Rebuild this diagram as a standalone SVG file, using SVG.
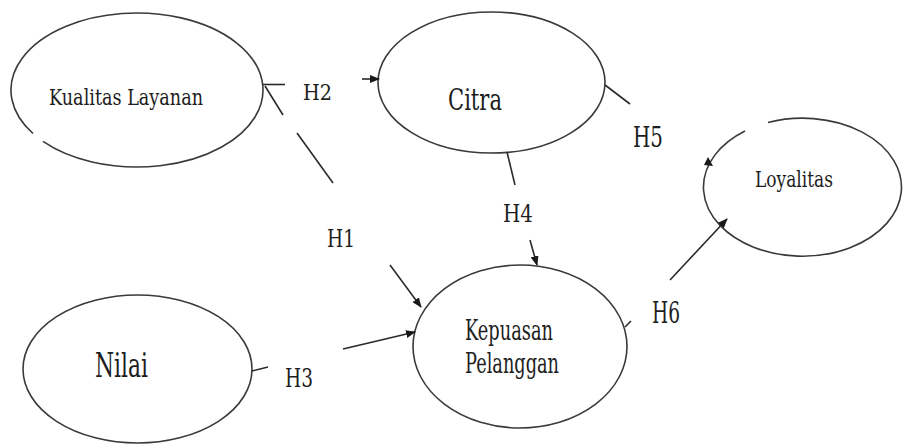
<svg xmlns="http://www.w3.org/2000/svg" width="909" height="445" viewBox="0 0 909 445">
  <defs>
    <marker id="arrow" markerUnits="userSpaceOnUse" markerWidth="10" markerHeight="8" refX="9" refY="4" orient="auto">
      <path d="M0,0 L10,4 L0,8 Z" fill="#1a1a1a"/>
    </marker>
    <style>
      .node { fill: none; stroke: #3a3a3a; stroke-width: 1.6; }
      .edge { fill: none; stroke: #2a2a2a; stroke-width: 1.6; }
      text { font-family: "DejaVu Serif", serif; fill: #1e1e1e; }
    </style>
  </defs>
  <rect width="909" height="445" fill="#ffffff"/>

  <!-- nodes -->
  <g id="kualitas-layanan">
    <path class="node" d="M33,133.5 A126,77 0 1 1 43,141.3"/>
    <text x="49" y="105" font-size="23" textLength="154" lengthAdjust="spacingAndGlyphs">Kualitas Layanan</text>
  </g>
  <g id="citra">
    <ellipse class="node" cx="491.5" cy="82.5" rx="113.5" ry="70.5"/>
    <text x="448" y="110" font-size="30" textLength="54" lengthAdjust="spacingAndGlyphs">Citra</text>
  </g>
  <g id="loyalitas">
    <path class="node" d="M768,122.5 A99,69 0 1 1 745,131"/>
    <text x="755" y="187" font-size="23" textLength="78" lengthAdjust="spacingAndGlyphs">Loyalitas</text>
  </g>
  <g id="nilai">
    <ellipse class="node" cx="137.5" cy="369" rx="114.5" ry="74"/>
    <text x="95" y="377" font-size="33" textLength="53" lengthAdjust="spacingAndGlyphs">Nilai</text>
  </g>
  <g id="kepuasan-pelanggan">
    <ellipse class="node" cx="520" cy="346.5" rx="107" ry="81.5"/>
    <text x="465" y="340" font-size="27" textLength="88" lengthAdjust="spacingAndGlyphs">Kepuasan</text>
    <text x="465" y="373" font-size="27" textLength="94" lengthAdjust="spacingAndGlyphs">Pelanggan</text>
  </g>

  <!-- connectors -->
  <g id="connectors">
    <!-- H2: Kualitas Layanan -> Citra -->
    <line class="edge" x1="263" y1="84.5" x2="285" y2="84.5"/>
    <line class="edge" x1="362" y1="79" x2="379" y2="79" marker-end="url(#arrow)"/>
    <!-- H1: Kualitas Layanan -> Kepuasan Pelanggan -->
    <line class="edge" x1="265" y1="86" x2="283" y2="115"/>
    <line class="edge" x1="297" y1="133" x2="333" y2="183"/>
    <line class="edge" x1="390" y1="265" x2="421" y2="307" marker-end="url(#arrow)"/>
    <!-- H3: Nilai -> Kepuasan Pelanggan -->
    <line class="edge" x1="252" y1="371" x2="268" y2="367"/>
    <line class="edge" x1="343" y1="349" x2="415" y2="332" marker-end="url(#arrow)"/>
    <!-- H4: Citra -> Kepuasan Pelanggan -->
    <line class="edge" x1="507" y1="152" x2="515" y2="185"/>
    <line class="edge" x1="530" y1="240" x2="537" y2="265" marker-end="url(#arrow)"/>
    <!-- H5: Citra -> Loyalitas -->
    <line class="edge" x1="605" y1="85" x2="630" y2="104"/>
    <polygon points="708,157 713,166 704,165" fill="#1a1a1a"/>
    <!-- H6: Kepuasan Pelanggan -> Loyalitas -->
    <line class="edge" x1="625" y1="327" x2="631" y2="321"/>
    <line class="edge" x1="670" y1="280" x2="727" y2="219" marker-end="url(#arrow)"/>

    <text x="303" y="100" font-size="23" textLength="29" lengthAdjust="spacingAndGlyphs">H2</text>
    <text x="327" y="247" font-size="24" textLength="28" lengthAdjust="spacingAndGlyphs">H1</text>
    <text x="285" y="387" font-size="26" textLength="28" lengthAdjust="spacingAndGlyphs">H3</text>
    <text x="503" y="222" font-size="25" textLength="30" lengthAdjust="spacingAndGlyphs">H4</text>
    <text x="633" y="147" font-size="28" textLength="30" lengthAdjust="spacingAndGlyphs">H5</text>
    <text x="652" y="323" font-size="29" textLength="28" lengthAdjust="spacingAndGlyphs">H6</text>
  </g>
</svg>
